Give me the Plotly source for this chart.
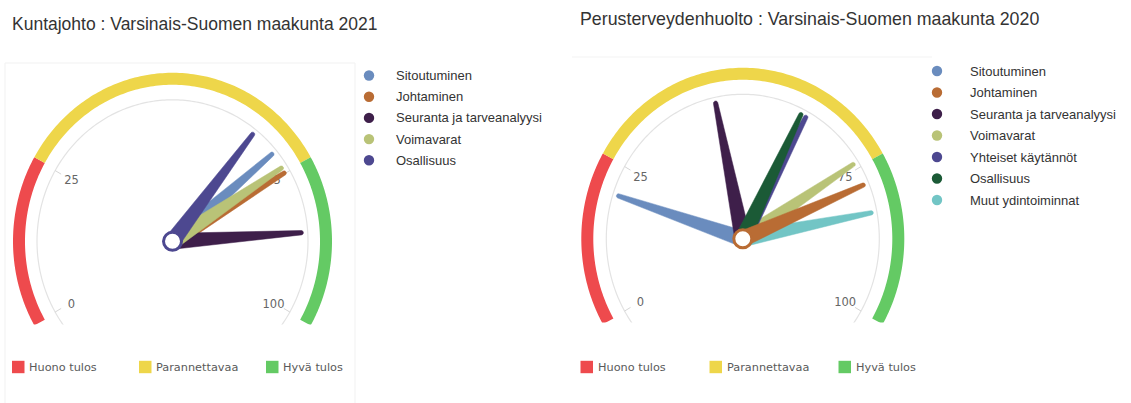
import numpy as np
import plotly.graph_objects as go

W, H = 1131, 403

# ---------------- data ----------------
band_names = ["Huono tulos", "Parannettavaa", "Hyvä tulos"]
band_limits = [0, 25, 75, 100]
band_colors = ["#ee4a4d", "#eed64a", "#64ca64"]
tick_values = [0, 25, 75, 100]
tick_labels = ["0", "25", "75", "100"]

title_2021 = "Kuntajohto : Varsinais-Suomen maakunta 2021"
series_2021 = ["Sitoutuminen", "Johtaminen", "Seuranta ja tarveanalyysi",
               "Voimavarat", "Osallisuus"]
values_2021 = [71, 75, 86, 74, 66]
colors_2021 = ["#6a8cbe", "#b96c34", "#3e1f4a", "#b9c377", "#4d4890"]
pivot_2021 = "Osallisuus"

title_2020 = "Perusterveydenhuolto : Varsinais-Suomen maakunta 2020"
series_2020 = ["Sitoutuminen", "Johtaminen", "Seuranta ja tarveanalyysi",
               "Voimavarat", "Yhteiset käytännöt", "Osallisuus",
               "Muut ydintoiminnat"]
values_2020 = [20, 78, 45, 74, 62, 61, 83]
colors_2020 = ["#6a8cbe", "#b96c34", "#3e1f4a", "#b9c377", "#4d4890",
               "#1b5a36", "#72c5c5"]
pivot_2020 = "Johtaminen"

# ---------------- helpers ----------------
def xp(px):
    return px / W


def yp(py):
    return 1 - py / H


def ang(v):
    # gauge sweeps 240 degrees: 0 -> 210 deg, 100 -> -30 deg
    return np.radians(210 - 2.4 * np.asarray(v, dtype=float))


fig = go.Figure()


def gauge(idx, box, center, rx, ry, grx, gry, names, values, colors, pivot):
    xa = "x" if idx == 1 else "x%d" % idx
    ya = "y" if idx == 1 else "y%d" % idx
    cx, cy = center
    left, top, right, bottom = box
    fig.update_layout(**{
        ("xaxis" if idx == 1 else "xaxis%d" % idx): dict(
            domain=[xp(left), xp(right)], range=[left - cx, right - cx],
            visible=False, fixedrange=True, anchor=ya),
        ("yaxis" if idx == 1 else "yaxis%d" % idx): dict(
            domain=[yp(bottom), yp(top)], range=[-(bottom - cy), cy - top],
            visible=False, fixedrange=True, anchor=xa),
    })
    # grey inner axis line
    vv = np.linspace(-10, 110, 300)
    t = ang(vv)
    fig.add_trace(go.Scatter(x=grx * np.cos(t), y=gry * np.sin(t), mode="lines",
                             line=dict(color="#e3e3e3", width=1.2, simplify=False),
                             hoverinfo="skip", xaxis=xa, yaxis=ya))
    # colour bands
    for i in range(len(band_names)):
        vv = np.linspace(band_limits[i], band_limits[i + 1], 120)
        t = ang(vv)
        fig.add_trace(go.Scatter(x=rx * np.cos(t), y=ry * np.sin(t), mode="lines",
                                 line=dict(color=band_colors[i], width=12, simplify=False),
                                 hoverinfo="skip", xaxis=xa, yaxis=ya))
    # ticks and labels
    for v, lab in zip(tick_values, tick_labels):
        t = ang(v)
        ox, oy = grx * np.cos(t), gry * np.sin(t)
        L = np.hypot(ox, oy)
        ix, iy = ox - 7 * ox / L, oy - 7 * oy / L
        fig.add_trace(go.Scatter(x=[ox, ix], y=[oy, iy], mode="lines",
                                 line=dict(color="#d6d6d6", width=1),
                                 hoverinfo="skip", xaxis=xa, yaxis=ya))
        fig.add_trace(go.Scatter(x=[0.76 * rx * np.cos(t)], y=[0.76 * ry * np.sin(t) - 2],
                                 mode="text", text=[lab],
                                 textfont=dict(family="DejaVu Sans", size=11.5, color="#666666"),
                                 hoverinfo="skip", xaxis=xa, yaxis=ya))
    # needles (pivot series drawn last)
    order = [i for i in range(len(names)) if names[i] != pivot] + [names.index(pivot)]
    for i in order:
        t = ang(values[i])
        tx, ty = 0.84 * rx * np.cos(t), 0.84 * ry * np.sin(t)
        L = np.hypot(tx, ty)
        d = np.array([tx / L, ty / L])
        n = np.array([-d[1], d[0]])
        tip = np.array([tx, ty])
        bw, tw = 8.0, 2.2
        pts = [bw * n, tip + tw * n]
        for phi in np.linspace(0, np.pi, 12):
            pts.append(tip + tw * (np.cos(phi) * n + np.sin(phi) * d))
        pts += [tip - tw * n, -bw * n, bw * n]
        pts = np.array(pts)
        fig.add_trace(go.Scatter(x=pts[:, 0], y=pts[:, 1], mode="lines", fill="toself",
                                 fillcolor=colors[i],
                                 line=dict(color=colors[i], width=0.5, simplify=False),
                                 name=names[i], hoverinfo="name", xaxis=xa, yaxis=ya))
    # pivot
    pc = colors[names.index(pivot)]
    fig.add_trace(go.Scatter(x=[0], y=[0], mode="markers",
                             marker=dict(size=18, color="white", line=dict(color=pc, width=3)),
                             hoverinfo="skip", xaxis=xa, yaxis=ya))


gauge(1, (0, 52, 360, 324.5), (172.5, 241.3), 153.5, 162.5, 135.5, 141.5,
      series_2021, values_2021, colors_2021, pivot_2021)
gauge(2, (570, 52, 935, 322.5), (742.8, 238.8), 155.5, 165.0, 136.5, 144.5,
      series_2020, values_2020, colors_2020, pivot_2020)

annotations = []
shapes = []

# faint panel borders
shapes.append(dict(type="rect", xref="paper", yref="paper", x0=xp(5), x1=xp(355),
                   y0=yp(405), y1=yp(63), line=dict(color="#f1f1f1", width=1)))
shapes.append(dict(type="line", xref="paper", yref="paper", x0=xp(572), x1=xp(932),
                   y0=yp(57), y1=yp(57), line=dict(color="#f3f3f3", width=1)))

# titles
annotations.append(dict(x=xp(10.5), y=yp(24), xref="paper", yref="paper", text=title_2021,
                        showarrow=False, xanchor="left", yanchor="middle", borderpad=0,
                        font=dict(family="Liberation Sans", size=17.5, color="#333333")))
annotations.append(dict(x=xp(579), y=yp(19.5), xref="paper", yref="paper", text=title_2020,
                        showarrow=False, xanchor="left", yanchor="middle", borderpad=0,
                        font=dict(family="Liberation Sans", size=17.8, color="#333333")))


def series_legend(names, colors, cx, tx, y0, dy):
    for k, (nm, c) in enumerate(zip(names, colors)):
        y = y0 + k * dy
        shapes.append(dict(type="circle", xref="paper", yref="paper",
                           x0=xp(cx - 5.2), x1=xp(cx + 5.2), y0=yp(y + 5.2), y1=yp(y - 5.2),
                           fillcolor=c, line=dict(width=0)))
        annotations.append(dict(x=xp(tx), y=yp(y), xref="paper", yref="paper", text=nm,
                                showarrow=False, xanchor="left", yanchor="middle", borderpad=0,
                                font=dict(family="Liberation Sans", size=13, color="#333333")))


series_legend(series_2021, colors_2021, 369, 395, 75.5, 21.2)
series_legend(series_2020, colors_2020, 937, 969, 71, 21.5)


def band_legend(sq_x, y):
    for nm, c, x in zip(band_names, band_colors, sq_x):
        shapes.append(dict(type="rect", xref="paper", yref="paper",
                           x0=xp(x), x1=xp(x + 12.5), y0=yp(y + 6.2), y1=yp(y - 6.2),
                           fillcolor=c, line=dict(width=0)))
        annotations.append(dict(x=xp(x + 16), y=yp(y), xref="paper", yref="paper", text=nm,
                                showarrow=False, xanchor="left", yanchor="middle", borderpad=0,
                                font=dict(family="DejaVu Sans", size=11.3, color="#5a5a5a")))


band_legend([12, 139, 266], 367)
band_legend([580.5, 709.5, 838.5], 367)

fig.update_layout(width=W, height=H, margin=dict(l=0, r=0, t=0, b=0),
                  paper_bgcolor="white", plot_bgcolor="white", showlegend=False,
                  annotations=annotations, shapes=shapes)

fig.write_html("out.html", config={"displayModeBar": False},
               post_script="document.body.style.margin='0';document.body.style.overflow='hidden';")
